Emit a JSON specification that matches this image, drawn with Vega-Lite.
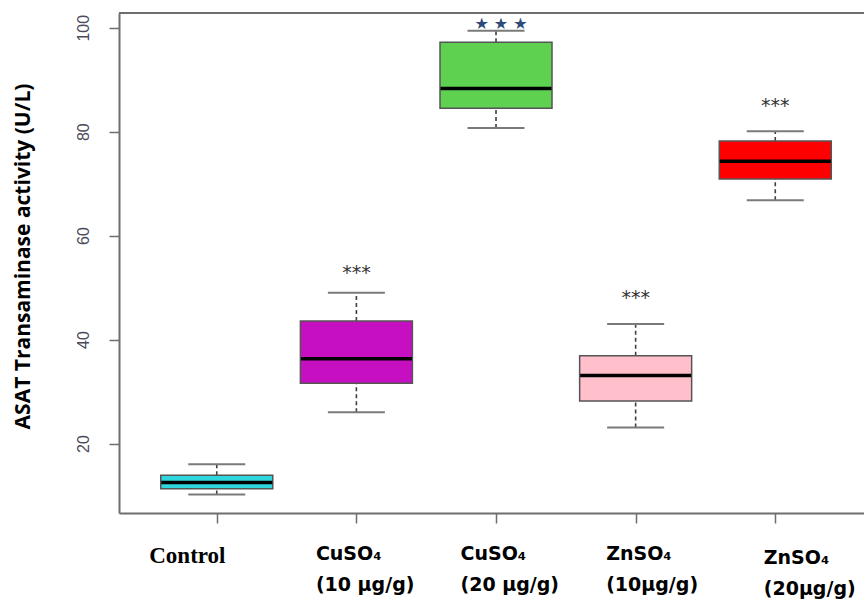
{
  "$schema": "https://vega.github.io/schema/vega-lite/v6.json",
  "width": 745,
  "height": 500,
  "autosize": {"type": "none"},
  "padding": {"left": 119, "top": 13, "right": 0, "bottom": 87},
  "background": "white",
  "config": {"view": {"stroke": null}},
  "datasets": {
    "boxes": [
      {"group": "Control", "min": 10.2, "q1": 11.3, "median": 12.5, "q3": 13.9, "max": 16.0},
      {"group": "CuSO₄|(10 µg/g)", "min": 26.0, "q1": 31.6, "median": 36.3, "q3": 43.6, "max": 49.0},
      {"group": "CuSO₄|(20 µg/g)", "min": 80.7, "q1": 84.5, "median": 88.3, "q3": 97.2, "max": 99.4},
      {"group": "ZnSO₄|(10µg/g)", "min": 23.1, "q1": 28.2, "median": 33.1, "q3": 36.9, "max": 43.0},
      {"group": "ZnSO₄|(20µg/g)", "min": 66.8, "q1": 70.9, "median": 74.3, "q3": 78.2, "max": 80.1}
    ],
    "asterisks": [
      {"group": "CuSO₄|(10 µg/g)", "y": 53.7, "label": "***"},
      {"group": "ZnSO₄|(10µg/g)", "y": 49.0, "label": "***"},
      {"group": "ZnSO₄|(20µg/g)", "y": 85.9, "label": "***"}
    ],
    "stars": [
      {"group": "CuSO₄|(20 µg/g)", "y": 100.7, "label": "★ ★  ★"}
    ]
  },
  "encoding": {
    "x": {
      "field": "group",
      "type": "nominal",
      "sort": null,
      "scale": {
        "type": "point",
        "domain": ["Control", "CuSO₄|(10 µg/g)", "CuSO₄|(20 µg/g)", "ZnSO₄|(10µg/g)", "ZnSO₄|(20µg/g)"],
        "padding": 0.6678,
        "align": 0.5242
      },
      "axis": {
        "title": null,
        "labelAngle": 0,
        "labelExpr": "split(datum.label, '|')",
        "labelAlign": "left",
        "labelBaseline": "top",
        "labelLineHeight": 31,
        "labelPadding": {"condition": {"test": "datum.value === 'ZnSO₄|(20µg/g)'", "value": 25}, "value": 21},
        "labelOffset": {
          "condition": [
            {"test": "datum.value === 'Control'", "value": -68},
            {"test": "datum.value === 'CuSO₄|(10 µg/g)'", "value": -41},
            {"test": "datum.value === 'CuSO₄|(20 µg/g)'", "value": -36},
            {"test": "datum.value === 'ZnSO₄|(10µg/g)'", "value": -30}
          ],
          "value": -12
        },
        "labelColor": "black",
        "labelFontWeight": "bold",
        "labelFont": {"condition": {"test": "datum.value === 'Control'", "value": "Liberation Serif"}, "value": "DejaVu Sans"},
        "labelFontSize": {"condition": {"test": "datum.value === 'Control'", "value": 23}, "value": 19},
        "labelOverlap": false,
        "labelBound": false,
        "labelFlush": false,
        "tickSize": 10,
        "tickColor": "#6e6e6e",
        "tickWidth": 1.5,
        "domainColor": "#6e6e6e",
        "domainWidth": 2,
        "grid": false
      }
    }
  },
  "layer": [
    {
      "data": {"values": [{}]},
      "mark": {"type": "rule", "color": "#6e6e6e", "strokeWidth": 2},
      "encoding": {"x": null, "y": {"datum": 102.83, "type": "quantitative"}}
    },
    {
      "data": {"name": "boxes"},
      "mark": {"type": "rule", "strokeDash": [4, 3], "color": "#3f3f3f", "strokeWidth": 1.6},
      "encoding": {
        "y": {
          "field": "q3",
          "type": "quantitative",
          "scale": {"domain": [6.64, 102.83], "nice": false, "zero": false},
          "axis": {
            "values": [20, 40, 60, 80, 100],
            "title": "ASAT Transaminase activity (U/L)",
            "titleFont": "Open Sans",
            "titleFontWeight": "bold",
            "titleFontSize": 21,
            "titleColor": "black",
            "titleX": -86,
            "titleY": 243,
            "titleAlign": "center",
            "titleBaseline": "bottom",
            "titleAngle": -90,
            "labelAngle": -90,
            "labelAlign": "center",
            "labelBaseline": "bottom",
            "labelPadding": 18,
            "labelFont": "Liberation Sans",
            "labelFontSize": 16,
            "labelColor": "#4a4a5a",
            "tickSize": 10,
            "tickColor": "#6e6e6e",
            "tickWidth": 1.5,
            "domainColor": "#6e6e6e",
            "domainWidth": 2,
            "grid": false
          }
        },
        "y2": {"field": "max"}
      }
    },
    {
      "data": {"name": "boxes"},
      "mark": {"type": "rule", "strokeDash": [4, 3], "color": "#3f3f3f", "strokeWidth": 1.6},
      "encoding": {
        "y": {"field": "min", "type": "quantitative"},
        "y2": {"field": "q1"}
      }
    },
    {
      "data": {"name": "boxes"},
      "mark": {"type": "tick", "orient": "horizontal", "size": 57, "thickness": 2, "color": "#7a7a7a", "opacity": 1},
      "encoding": {"y": {"field": "max", "type": "quantitative"}}
    },
    {
      "data": {"name": "boxes"},
      "mark": {"type": "tick", "orient": "horizontal", "size": 57, "thickness": 2, "color": "#7a7a7a", "opacity": 1},
      "encoding": {"y": {"field": "min", "type": "quantitative"}}
    },
    {
      "data": {"name": "boxes"},
      "mark": {"type": "bar", "size": 112, "stroke": "#555555", "strokeWidth": 1.5, "opacity": 1},
      "encoding": {
        "y": {"field": "q1", "type": "quantitative"},
        "y2": {"field": "q3"},
        "color": {
          "field": "group",
          "type": "nominal",
          "scale": {
            "domain": ["Control", "CuSO₄|(10 µg/g)", "CuSO₄|(20 µg/g)", "ZnSO₄|(10µg/g)", "ZnSO₄|(20µg/g)"],
            "range": ["#2ED6DE", "#C70FC2", "#5FD150", "#FFC0CB", "#FF0000"]
          },
          "legend": null
        }
      }
    },
    {
      "data": {"name": "boxes"},
      "mark": {"type": "tick", "orient": "horizontal", "size": 111, "thickness": 3.5, "color": "black", "opacity": 1},
      "encoding": {"y": {"field": "median", "type": "quantitative"}}
    },
    {
      "data": {"name": "asterisks"},
      "mark": {"type": "text", "font": "DejaVu Sans", "fontSize": 19, "color": "#333333", "baseline": "middle", "dy": 5},
      "encoding": {
        "y": {"field": "y", "type": "quantitative"},
        "text": {"field": "label"}
      }
    },
    {
      "data": {"name": "stars"},
      "mark": {"type": "text", "font": "DejaVu Sans", "fontSize": 16, "color": "#2E4A7A", "baseline": "middle", "dx": 5},
      "encoding": {
        "y": {"field": "y", "type": "quantitative"},
        "text": {"field": "label"}
      }
    }
  ]
}
